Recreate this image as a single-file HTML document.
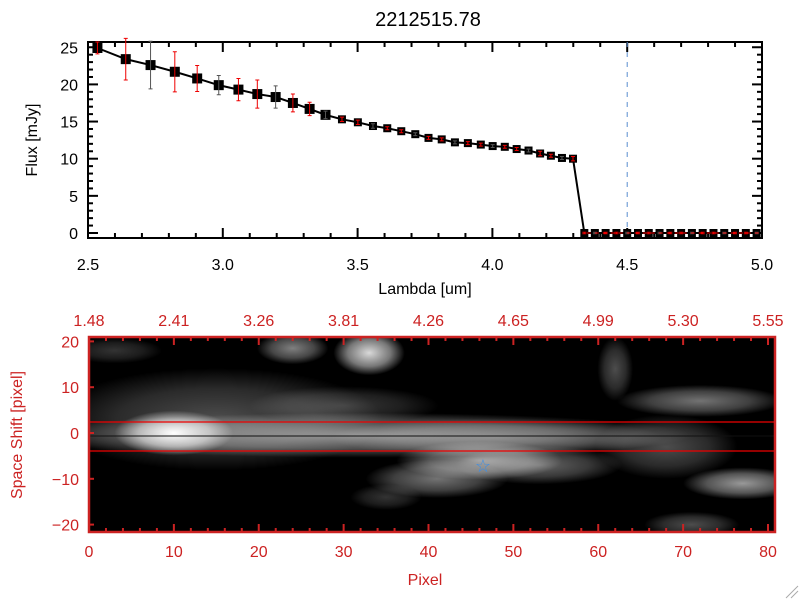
<!DOCTYPE html>
<html><head><meta charset="utf-8"><style>
body{margin:0;background:#fff;width:800px;height:600px;overflow:hidden}
svg text{font-family:"Liberation Sans",sans-serif}
</style></head><body>
<svg width="800" height="600" xmlns="http://www.w3.org/2000/svg">
<defs>
<radialGradient id="blob"><stop offset="0" stop-color="#fff" stop-opacity="1"/><stop offset="0.6" stop-color="#fff" stop-opacity="0.55"/><stop offset="1" stop-color="#fff" stop-opacity="0"/></radialGradient>
<clipPath id="imgclip"><rect x="89" y="337" width="686" height="195"/></clipPath>
</defs>
<text x="428" y="26" font-size="20" text-anchor="middle">2212515.78</text>
<g id="top"></g>
<g id="bot"></g>
<g stroke="#aaa"><line x1="786" y1="598" x2="798" y2="586"/><line x1="791" y1="598" x2="798" y2="591"/></g>
</svg>
<script>
const lambdas=[2.535,2.64,2.732,2.822,2.905,2.985,3.058,3.128,3.196,3.26,3.322,3.381,3.442,3.501,3.557,3.61,3.662,3.714,3.763,3.812,3.861,3.909,3.957,4.001,4.046,4.09,4.134,4.177,4.217,4.258,4.299,4.341,4.38,4.42,4.46,4.5,4.54,4.58,4.62,4.66,4.7,4.74,4.78,4.82,4.86,4.9,4.94,4.98];
const flux=[24.9,23.4,22.6,21.7,20.8,19.9,19.3,18.7,18.3,17.5,16.7,15.9,15.3,14.9,14.4,14.1,13.7,13.3,12.8,12.6,12.2,12.1,11.9,11.7,11.6,11.3,11.1,10.7,10.4,10.1,10.0,0,0,0,0,0,0,0,0,0,0,0,0,0,0,0,0,0];
const fluxErr=[0.8,2.8,3.2,2.7,1.75,1.3,1.5,1.9,1.5,1.2,0.9,0.5,0.3,0.3,0.3,0.2,0.2,0.2,0.2,0.2,0.2,0.2,0.2,0.2,0.2,0.2,0.2,0.3,0.2,0.2,0.3,0.1,0.1,0.1,0.1,0.1,0.1,0.1,0.1,0.1,0.1,0.1,0.1,0.1,0.1,0.1,0.1,0.1];
const xTicks=[2.5,3.0,3.5,4.0,4.5,5.0];
const yTicks=[0,5,10,15,20,25];
const pixTicks=[0,10,20,30,40,50,60,70,80];
const shiftTicks=[-20,-10,0,10,20];
const topLabels=["1.48","2.41","3.26","3.81","4.26","4.65","4.99","5.30","5.55"];
// blobs: [pixelX, shiftY, radiusX(pix), radiusY(shift), brightness]
const blobX=[15,10,32,48,33,24,46,53,41,72,77,62,68,3,71,30,35];
const blobY=[3,0,-0.5,-1,17.5,18.5,-6,-7,-10,7,-11,14,-3,18,-20,6,-14];
const blobRX=[14,5,28,14,3,3,7,7,6,7,5,1.5,6,4,4,8,3];
const blobRY=[8,3.5,3.5,3,3.5,2.5,3,3,3,2.5,2.5,5,5,2,2,3,2];
const blobI=[0.3,1,0.55,0.3,0.85,0.5,0.6,0.4,0.45,0.45,0.6,0.3,0.3,0.2,0.3,0.22,0.2];

const NS="http://www.w3.org/2000/svg";
function mk(p,t,a){const e=document.createElementNS(NS,t);for(const k in a)e.setAttribute(k,a[k]);p.appendChild(e);return e;}
const T=document.getElementById('top');
const L=88,R=762,TP=42,BT=238;
const sx=v=>L+(v-2.5)/2.5*(R-L);
const sy=v=>233-v*7.43;
let e;
e=mk(T,'rect',{x:L,y:TP,width:R-L,height:BT-TP,fill:'none',stroke:'#000','stroke-width':2});


for(let v=2.5;v<=5.001;v+=0.1){const x=sx(v);const maj=Math.abs(v*2-Math.round(v*2))<0.01;const len=maj?10:5;
 mk(T,'line',{x1:x,y1:BT,x2:x,y2:BT-len,stroke:'#000','stroke-width':2});mk(T,'line',{x1:x,y1:TP,x2:x,y2:TP+len,stroke:'#000','stroke-width':2});}
for(let v=0;v<=26;v+=1){const y=sy(v);if(y<TP)continue;const len=v%5==0?10:5;
 mk(T,'line',{x1:L,y1:y,x2:L+len,y2:y,stroke:'#000','stroke-width':2});mk(T,'line',{x1:R,y1:y,x2:R-len,y2:y,stroke:'#000','stroke-width':2});}
xTicks.forEach(v=>{e=mk(T,'text',{x:sx(v),y:BT+32,'font-size':16,'text-anchor':'middle'});e.textContent=v.toFixed(1);

});
yTicks.forEach(v=>{e=mk(T,'text',{x:L-10,y:sy(v)+6,'font-size':16,'text-anchor':'end'});e.textContent=v;

});
e=mk(T,'text',{x:425,y:294,'font-size':16,'text-anchor':'middle'});e.textContent='Lambda [um]';


e=mk(T,'text',{x:0,y:0,'font-size':16,'text-anchor':'middle',transform:'translate(37,140) rotate(-90)'});e.textContent='Flux [mJy]';


e=mk(T,'line',{x1:sx(4.5),y1:TP,x2:sx(4.5),y2:BT,stroke:'#5a8fd0','stroke-dasharray':'5,5'});


e=mk(T,'polyline',{points:lambdas.map((l,i)=>sx(l)+','+sy(flux[i])).join(' '),fill:'none',stroke:'#000','stroke-width':2});


lambdas.forEach((l,i)=>{const x=sx(l),y=sy(flux[i]);const s=i<12?10:8;
 e=mk(T,'rect',{x:x-s/2,y:y-s/2,width:s,height:s,fill:'#000'});
 
 
 const y1=sy(flux[i]+fluxErr[i]),y2=sy(flux[i]-fluxErr[i]);
 e=mk(T,'path',{d:`M${x},${y1}V${y2}M${x-2},${y1}H${x+2}M${x-2},${y2}H${x+2}`,stroke:(i%3==2)?'#555':'#e00','stroke-width':1});
 
 });
e=mk(T,'line',{x1:sx(4.35),y1:sy(0),x2:R,y2:sy(0),stroke:'#e00','stroke-dasharray':'4,4'});



const B=document.getElementById('bot');
const BL=89,BR=775,BTp=337,BB=532;
const px=v=>BL+v*(767-88)/80;
const py=v=>433-v*4.58;
const red='#cc2222';
e=mk(B,'rect',{x:BL,y:BTp,width:BR-BL,height:BB-BTp,fill:'#000'});


const G=mk(B,'g',{'clip-path':'url(#imgclip)'});
blobX.forEach((bx,i)=>{const rx=blobRX[i]*(767-88)/80*1.4,ry=blobRY[i]*4.58*1.4;
 e=mk(G,'ellipse',{cx:px(bx),cy:py(blobY[i]),rx:rx,ry:ry,fill:'url(#blob)','fill-opacity':blobI[i]});
 
 });
e=mk(B,'line',{x1:BL,y1:422,x2:BR,y2:422,stroke:'#e00','stroke-width':1.2});


e=mk(B,'line',{x1:BL,y1:451,x2:BR,y2:451,stroke:'#e00','stroke-width':1.2});


e=mk(B,'line',{x1:BL,y1:436,x2:BR,y2:436,stroke:'#111','stroke-width':1});


e=mk(B,'text',{x:483,y:472,'font-size':18,'text-anchor':'middle',fill:'#3a8ee8'});e.textContent='☆';


e=mk(B,'rect',{x:BL,y:BTp,width:BR-BL,height:BB-BTp,fill:'none',stroke:red,'stroke-width':2.5});


for(let v=0;v<=80;v+=2){const x=px(v);const len=v%10==0?8:4;
 mk(B,'line',{x1:x,y1:BB,x2:x,y2:BB-len,stroke:red,'stroke-width':2});mk(B,'line',{x1:x,y1:BTp,x2:x,y2:BTp+len,stroke:red,'stroke-width':2});}
shiftTicks.forEach(v=>{const y=py(v);mk(B,'line',{x1:BL,y1:y,x2:BL+5,y2:y,stroke:red,'stroke-width':2});
 e=mk(B,'text',{x:79,y:y+6,'font-size':16,'text-anchor':'end',fill:red});e.textContent=v<0?'−'+(-v):v;
 
 });
pixTicks.forEach(v=>{e=mk(B,'text',{x:px(v),y:557,'font-size':16,'text-anchor':'middle',fill:red});e.textContent=v;
 
 });
topLabels.forEach((t,i)=>{e=mk(B,'text',{x:px(i*10),y:326,'font-size':16,'text-anchor':'middle',fill:red});e.textContent=t;
 
 });
e=mk(B,'text',{x:425,y:585,'font-size':16,'text-anchor':'middle',fill:red});e.textContent='Pixel';


e=mk(B,'text',{x:0,y:0,'font-size':16,'text-anchor':'middle',fill:red,transform:'translate(22,435) rotate(-90)'});e.textContent='Space Shift [pixel]';


</script>
</body></html>
